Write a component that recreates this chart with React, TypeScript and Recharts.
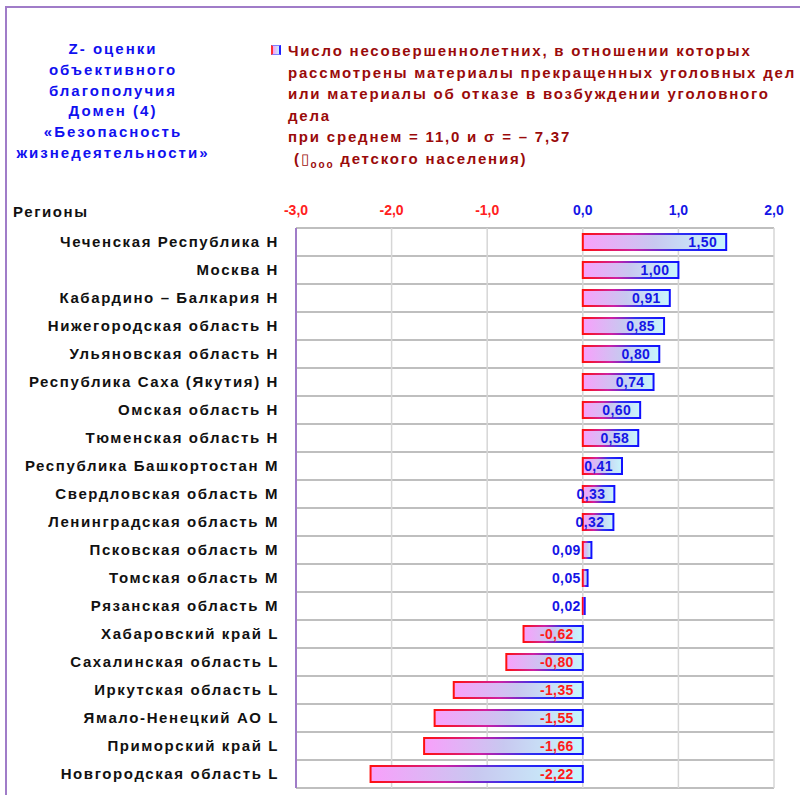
import React from 'react';
import { BarChart, Bar, XAxis, YAxis, CartesianGrid, LabelList } from 'recharts';

const regions = [
  'Чеченская Республика Н',
  'Москва Н',
  'Кабардино – Балкария Н',
  'Нижегородская область Н',
  'Ульяновская область Н',
  'Республика Саха (Якутия) Н',
  'Омская область Н',
  'Тюменская область Н',
  'Республика Башкортостан М',
  'Свердловская область М',
  'Ленинградская область М',
  'Псковская область М',
  'Томская область М',
  'Рязанская область М',
  'Хабаровский край L',
  'Сахалинская область L',
  'Иркутская область L',
  'Ямало-Ненецкий АО L',
  'Приморский край L',
  'Новгородская область L',
];

const zScores = [1.5, 1.0, 0.91, 0.85, 0.8, 0.74, 0.6, 0.58, 0.41, 0.33, 0.32, 0.09, 0.05, 0.02, -0.62, -0.8, -1.35, -1.55, -1.66, -2.22];

const xTicks = [-3, -2, -1, 0, 1, 2];

const sideTitle = ['Z- оценки', 'объективного', 'благополучия', 'Домен (4)', '«Безопасность', 'жизнедеятельности»'];

const legendLines = [
  'Число несовершеннолетних, в отношении которых',
  'рассмотрены материалы прекращенных уголовных дел',
  'или материалы об отказе в возбуждении уголовного',
  'дела',
  'при среднем = 11,0 и σ =  – 7,37',
];

const data = regions.map((name, i) => ({ name, value: zScores[i] }));

const font = '"Liberation Sans", Arial, sans-serif';
const fmt = (v: number) => v.toFixed(2).replace('.', ',');

const RegionTick = (props: any) => (
  <text x={279} y={props.y} dy={5} textAnchor="end" fontFamily={font} fontSize={15} fontWeight="bold" letterSpacing={1.6} fill="#111">
    {props.payload.value}
  </text>
);

const ValueTick = (props: any) => {
  const v = props.payload.value;
  return (
    <text x={props.x} y={215} textAnchor="middle" fontFamily={font} fontSize={14} fontWeight="bold" fill={v < 0 ? '#ff2020' : '#1515e6'}>
      {v.toFixed(1).replace('.', ',')}
    </text>
  );
};

const BarValue = (props: any) => {
  const { x, y, width, height, value } = props;
  const left = Math.min(x, x + width);
  const right = Math.max(x, x + width);
  const tx = right - left > 25 ? right - 9 : left - 2;
  return (
    <text x={tx} y={y + height / 2} dy={5} textAnchor="end" fontFamily={font} fontSize={14} fontWeight="bold" letterSpacing={0.4} fill={value < 0 ? '#ff1a1a' : '#1515e6'}>
      {fmt(value)}
    </text>
  );
};

export default function App() {
  return (
    <div style={{ position: 'fixed', left: 0, top: 0, width: 800, height: 795, overflow: 'hidden', background: '#fff' }}>
      <div style={{ position: 'absolute', left: 0, top: 39, width: 226, textAlign: 'center', fontFamily: font, fontWeight: 'bold', fontSize: 15, letterSpacing: 2, lineHeight: '20.8px', color: '#1010f0' }}>
        {sideTitle.map((t, i) => <div key={i}>{t}</div>)}
      </div>

      <div style={{ position: 'absolute', left: 271, top: 45, width: 10, height: 10, boxSizing: 'border-box', borderLeft: '2px solid #ff3030', borderRight: '2px solid #2020ff', borderTop: '1px solid #8080ff', borderBottom: '1px solid #8080ff', background: 'linear-gradient(to right, #f6a0f8, #c8f2fa)' }} />

      <div style={{ position: 'absolute', left: 288, top: 40, width: 600, whiteSpace: 'nowrap', fontFamily: font, fontWeight: 'bold', fontSize: 15, letterSpacing: 1.8, lineHeight: '21.6px', color: '#9a0a0a' }}>
        {legendLines.map((t, i) => <div key={i}>{t}</div>)}
        <div style={{ paddingLeft: 6 }}>
          (<span style={{ fontWeight: 'normal' }}>▯</span><sub style={{ fontSize: 10 }}>ooo</sub> детского населения)
        </div>
      </div>

      <div style={{ position: 'absolute', left: 13, top: 203, fontFamily: font, fontWeight: 'bold', fontSize: 15, letterSpacing: 1.6, color: '#111' }}>
        Регионы
      </div>

      <div style={{ position: 'absolute', left: 0, top: 0 }}>
        <BarChart width={800} height={795} data={data} layout="vertical" margin={{ top: 200, right: 26, bottom: 7, left: 0 }} barSize={16}>
          <defs>
            <linearGradient id="barFill" x1="0" y1="0" x2="1" y2="0">
              <stop offset="0%" stopColor="#f8a0fb" />
              <stop offset="50%" stopColor="#c8c8f0" />
              <stop offset="100%" stopColor="#c8f6fc" />
            </linearGradient>
            <linearGradient id="barStroke" x1="0" y1="0" x2="1" y2="0">
              <stop offset="0%" stopColor="#ff1010" />
              <stop offset="35%" stopColor="#d020a0" />
              <stop offset="65%" stopColor="#3030f0" />
              <stop offset="100%" stopColor="#1010ff" />
            </linearGradient>
          </defs>
          <CartesianGrid
            vertical={false}
            stroke="#aaaaaa"
            strokeWidth={1.5}
            horizontalCoordinatesGenerator={({ offset }: any) =>
              Array.from({ length: regions.length + 1 }, (_, i) => offset.top + (i * offset.height) / regions.length)
            }
          />
          <CartesianGrid horizontal={false} stroke="#d6d6d6" strokeWidth={1.5} />
          <XAxis
            type="number"
            orientation="top"
            domain={[-3, 2]}
            ticks={xTicks}
            height={28}
            axisLine={false}
            tickLine={false}
            tick={<ValueTick />}
            allowDataOverflow
          />
          <YAxis
            type="category"
            dataKey="name"
            width={296}
            axisLine={{ stroke: '#a07cc8', strokeWidth: 2 }}
            tickLine={false}
            tick={<RegionTick />}
            interval={0}
          />
          <Bar dataKey="value" fill="url(#barFill)" stroke="url(#barStroke)" strokeWidth={2} isAnimationActive={false}>
            <LabelList dataKey="value" content={<BarValue />} />
          </Bar>
        </BarChart>
      </div>

      <div style={{ position: 'absolute', left: 5, top: 6, width: 2, height: 789, background: '#a07cc8' }} />
      <div style={{ position: 'absolute', left: 5, top: 6, width: 795, height: 2, background: '#a07cc8' }} />
    </div>
  );
}
